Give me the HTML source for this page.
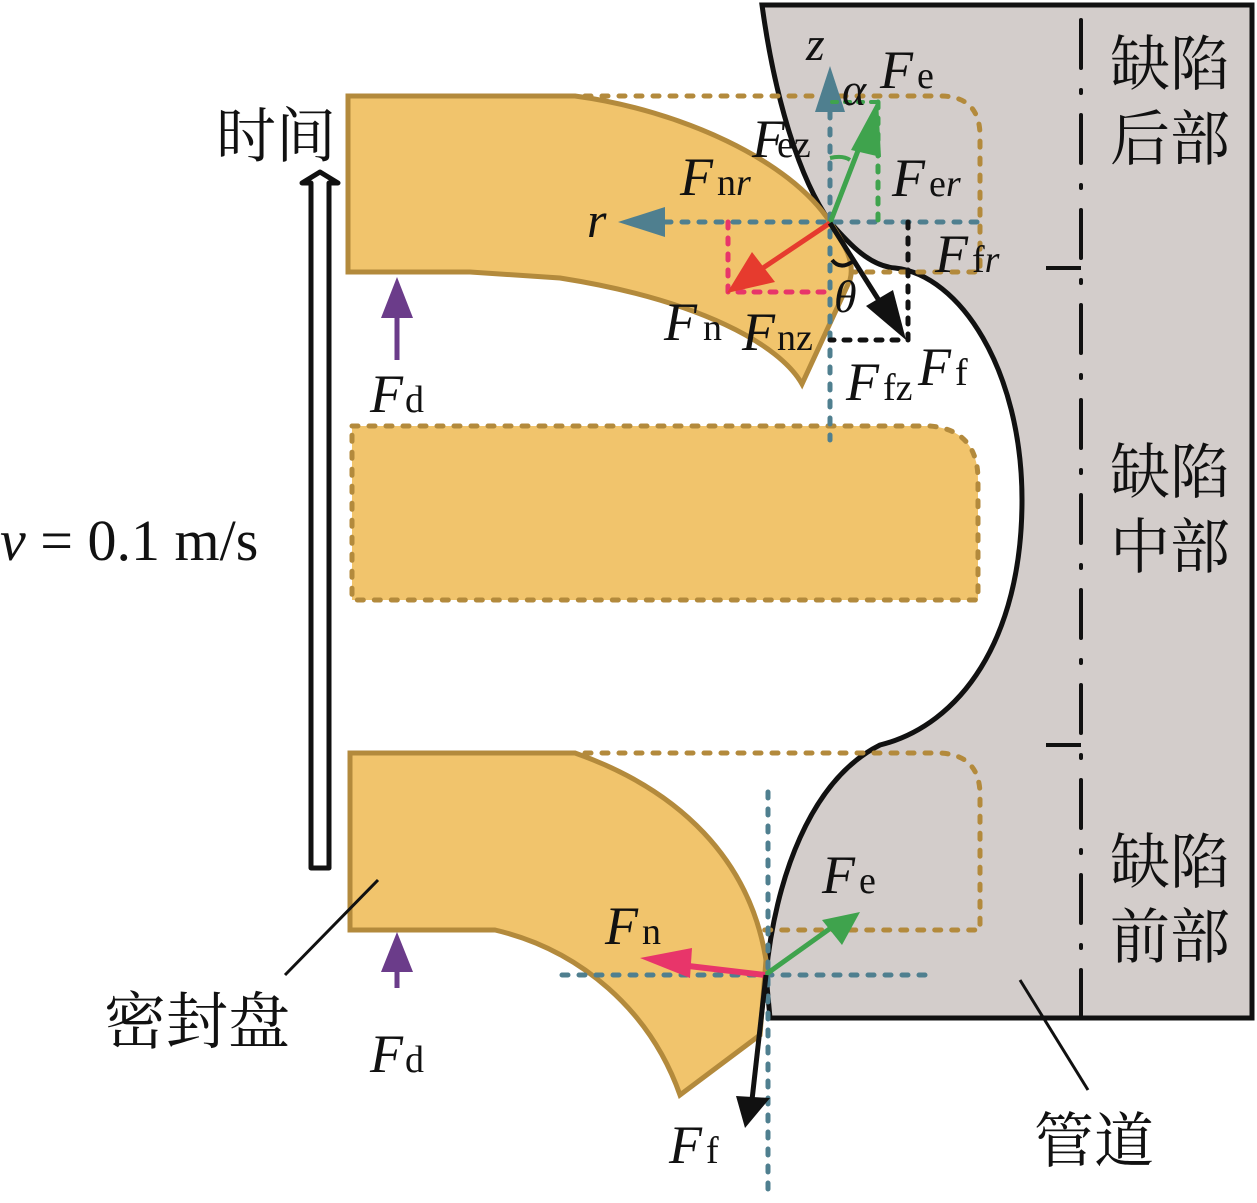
<!DOCTYPE html>
<html><head><meta charset="utf-8"><style>
html,body{margin:0;padding:0;background:#fff}
svg{display:block}
.F{font-family:"Liberation Serif",serif;font-style:italic;font-size:54px;fill:#111}
.s{font-family:"Liberation Serif",serif;font-style:normal;font-size:38px;fill:#111}
.si{font-family:"Liberation Serif",serif;font-style:italic;font-size:38px;fill:#111}
.cn{font-family:"Noto Serif CJK SC",serif;font-size:60px;fill:#111}
</style></head><body>
<svg width="1257" height="1203" viewBox="0 0 1257 1203" xmlns="http://www.w3.org/2000/svg">
<!-- pipe -->
<path d="M762,5 L1252,5 L1252,1018 L770,1018 L766,975 C775,880 810,780 880,745 C960,725 1022,640 1022,500 C1022,370 960,275 895,268 C870,266 850,245 830,222 C800,180 775,100 762,5 Z" fill="#d3cdcb" stroke="#111" stroke-width="5"/>
<line x1="1081" y1="20" x2="1081" y2="1018" stroke="#111" stroke-width="4" stroke-dasharray="48,22,3,22" stroke-linecap="round"/>
<line x1="1046" y1="268" x2="1081" y2="268" stroke="#111" stroke-width="4"/>
<line x1="1046" y1="745" x2="1081" y2="745" stroke="#111" stroke-width="4"/>
<g fill="none" stroke="#b38a3c" stroke-width="5" stroke-dasharray="6,11" stroke-linecap="round">
<path d="M585,96 L940,96 Q980,96 980,136 L980,272 L470,272"/>
<path d="M585,753 L940,753 Q980,755 980,795 L980,930 L500,930"/>
</g>
<!-- top disc -->
<path d="M348,96 L575,96 C680,110 790,160 830,222 C845,245 855,262 850,280 L802,384 C780,345 700,300 560,278 L470,272 L348,272 Z" fill="#f1c46c" stroke="#b38a3c" stroke-width="5"/>
<!-- middle disc -->
<path d="M352,426 L930,426 Q978,430 978,480 L978,600 L352,600 Z" fill="#f1c46c" stroke="#b38a3c" stroke-width="5" stroke-dasharray="6,11" stroke-linecap="round"/>
<!-- bottom disc -->
<path d="M350,753 L575,753 C680,790 750,860 766,960 L760,1035 L680,1095 C650,1010 580,950 495,930 L350,930 Z" fill="#f1c46c" stroke="#b38a3c" stroke-width="5"/>
<g stroke="#4f7f8f" stroke-width="5" stroke-dasharray="6,11" stroke-linecap="round" fill="none">
<line x1="665" y1="222" x2="980" y2="222"/>
<line x1="830" y1="112" x2="830" y2="440"/>
<line x1="562" y1="975" x2="925" y2="975"/>
<line x1="768" y1="792" x2="768" y2="1195"/>
</g>
<polygon points="618,222 665,207 665,237" fill="#4f7f8f"/>
<polygon points="830,66 815,112 845,112" fill="#4f7f8f"/>
<line x1="878" y1="102" x2="878" y2="222" stroke="#3fa34d" stroke-width="5" stroke-dasharray="6,10" stroke-linecap="round"/>
<line x1="832" y1="102" x2="876" y2="102" stroke="#3fa34d" stroke-width="4" stroke-dasharray="5,8" stroke-linecap="round"/>
<path d="M830,158 Q843,155 850,160" fill="none" stroke="#3fa34d" stroke-width="4"/>
<path d="M728,222 L728,292 L830,292" fill="none" stroke="#e8356a" stroke-width="5" stroke-dasharray="6,10" stroke-linecap="round"/>
<path d="M908,222 L908,340 L830,340" fill="none" stroke="#111" stroke-width="5" stroke-dasharray="6,10" stroke-linecap="round"/>
<path d="M832,260 Q840,270 852,262" fill="none" stroke="#111" stroke-width="4"/>
<line x1="830" y1="223" x2="866" y2="130" stroke="#3fa34d" stroke-width="5"/>
<polygon points="878,100 851,150 881,157" fill="#3fa34d"/>
<line x1="830" y1="223" x2="760" y2="270" stroke="#e63b2e" stroke-width="5"/>
<polygon points="727,293 752,252 775,282" fill="#e63b2e"/>
<line x1="830" y1="223" x2="885" y2="310" stroke="#111" stroke-width="5"/>
<polygon points="906,340 866,306 893,290" fill="#111"/>
<line x1="765" y1="975" x2="835" y2="925" stroke="#3fa34d" stroke-width="5"/>
<polygon points="860,912 822,920 842,945" fill="#3fa34d"/>
<line x1="765" y1="975" x2="680" y2="965" stroke="#e8356a" stroke-width="6"/>
<polygon points="640,958 692,948 690,978" fill="#e8356a"/>
<line x1="766" y1="975" x2="752" y2="1100" stroke="#111" stroke-width="5"/>
<polygon points="745,1128 736,1096 770,1098" fill="#111"/>
<line x1="397" y1="360" x2="397" y2="310" stroke="#6b3c8a" stroke-width="5"/>
<polygon points="397,277 381,318 413,318" fill="#6b3c8a"/>
<line x1="397" y1="988" x2="397" y2="965" stroke="#6b3c8a" stroke-width="5"/>
<polygon points="397,932 381,972 413,972" fill="#6b3c8a"/>
<path d="M311,868 L311,183 L302,183 L320,172 L338,183 L329,183 L329,868 Z" fill="#fff" stroke="#111" stroke-width="5" stroke-linejoin="round"/>
<line x1="378" y1="880" x2="285" y2="975" stroke="#111" stroke-width="3"/>
<line x1="1020" y1="980" x2="1088" y2="1090" stroke="#111" stroke-width="3"/>
<text class="cn" x="216" y="157">时间</text>
<text class="cn" x="104" y="1043" style="font-size:62px">密封盘</text>
<text class="cn" x="1034" y="1162">管道</text>
<text class="cn" x="1110" y="85">缺陷</text>
<text class="cn" x="1110" y="160">后部</text>
<text class="cn" x="1110" y="493">缺陷</text>
<text class="cn" x="1110" y="568">中部</text>
<text class="cn" x="1110" y="883">缺陷</text>
<text class="cn" x="1110" y="958">前部</text>
<text x="0" y="560" style="font-family:'Liberation Serif',serif;font-size:58px;fill:#111"><tspan font-style="italic">v</tspan> = 0.1 m/s</text>
<text class="F" x="806" y="60" style="font-size:48px">z</text>
<text class="F" x="842" y="105" style="font-size:46px">α</text>
<text class="F" x="880" y="88">F<tspan class="s" dx="4">e</tspan></text>
<text class="F" x="752" y="157">F<tspan class="s" dx="-8">ez</tspan></text>
<text class="F" x="892" y="196">F<tspan class="s" dx="4">e</tspan><tspan class="si">r</tspan></text>
<text class="F" x="680" y="195">F<tspan class="s" dx="4">n</tspan><tspan class="si">r</tspan></text>
<text class="F" x="587" y="237" style="font-size:50px">r</text>
<text class="F" x="935" y="272">F<tspan class="s" dx="4">f</tspan><tspan class="si">r</tspan></text>
<text class="F" x="664" y="340">F<tspan class="s" dx="6">n</tspan></text>
<text class="F" x="742" y="350">F<tspan class="s" dx="2">nz</tspan></text>
<text class="F" x="834" y="312" style="font-size:46px">θ</text>
<text class="F" x="918" y="385">F<tspan class="s" dx="4">f</tspan></text>
<text class="F" x="846" y="400">F<tspan class="s" dx="4">fz</tspan></text>
<text class="F" x="370" y="412">F<tspan class="s" dx="2">d</tspan></text>
<text class="F" x="822" y="893">F<tspan class="s" dx="4">e</tspan></text>
<text class="F" x="605" y="944">F<tspan class="s" dx="4">n</tspan></text>
<text class="F" x="370" y="1072">F<tspan class="s" dx="2">d</tspan></text>
<text class="F" x="669" y="1163">F<tspan class="s" dx="4">f</tspan></text>
</svg>
</body></html>
